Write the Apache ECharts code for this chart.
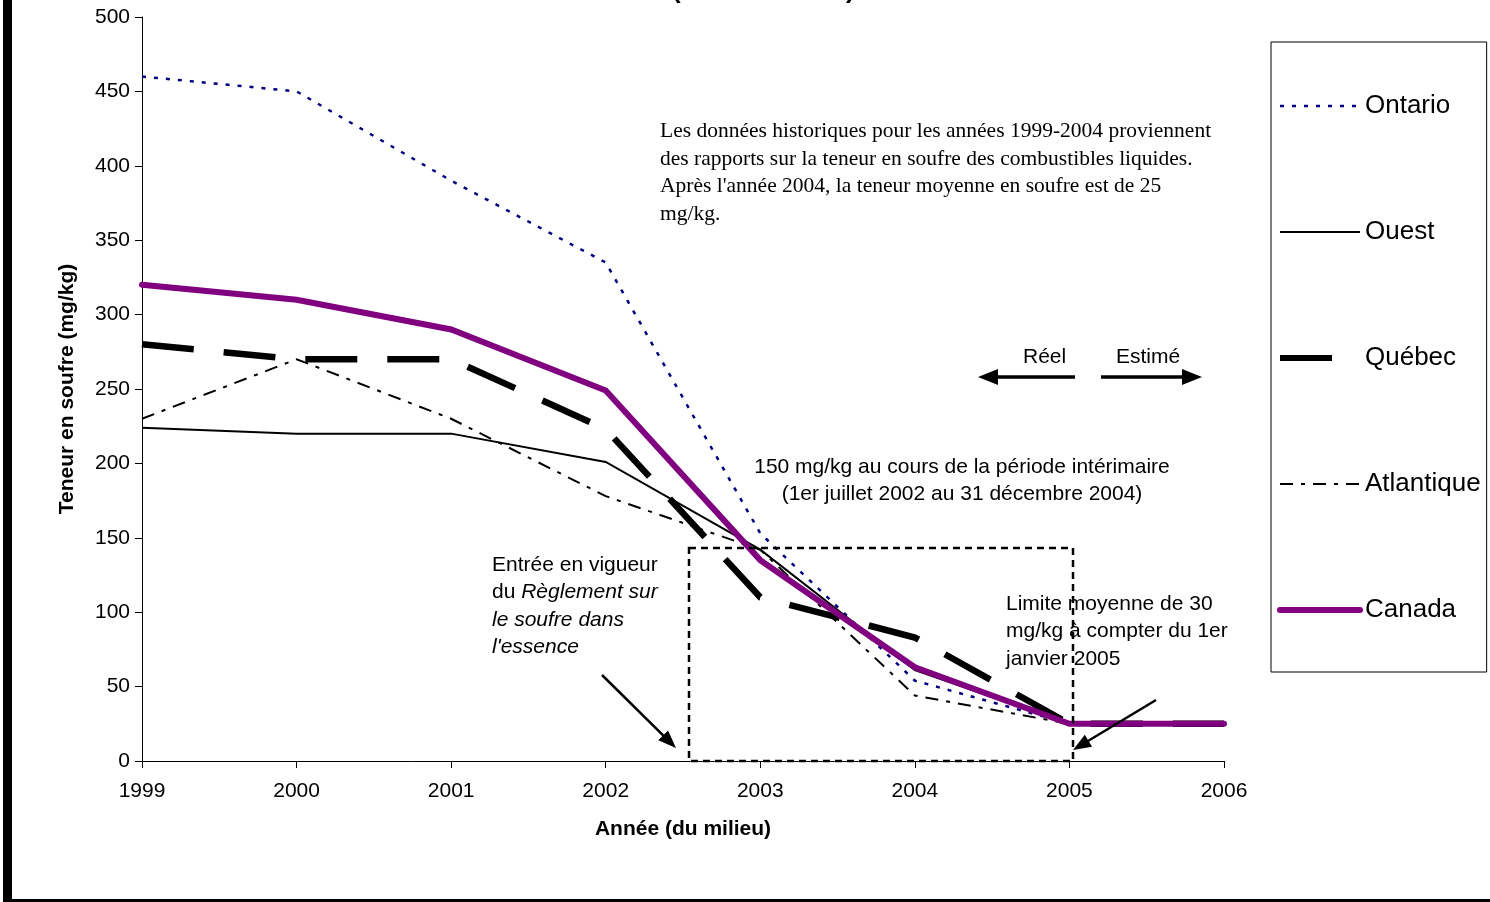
<!DOCTYPE html>
<html><head><meta charset="utf-8">
<script src="https://cdn.jsdelivr.net/npm/echarts@6/dist/echarts.min.js"></script>
<style>html,body{margin:0;padding:0;background:#fff}#c{width:1490px;height:902px}</style>
</head><body><div id="c"></div><script>
// ---- data ----
const years = [1999, 2000, 2001, 2002, 2003, 2004, 2005, 2006];
const ontario    = [460, 450, 390, 335, 153, 54, 25, 25];
const ouest      = [224, 220, 220, 201, 142, 61, 25, 25];
const quebec     = [280, 270, 270, 223, 110, 83, 25, 25];
const atlantique = [230, 270, 230, 178, 142, 44, 25, 25];
const canada     = [320, 310, 290, 249, 135, 63, 25, 25];
const seriesNames = ['Ontario', 'Ouest', 'Québec', 'Atlantique', 'Canada'];
const yMin = 0, yMax = 500, yStep = 50;

const pairs = arr => years.map((y, i) => [y, arr[i]]);
const SANS = '"Liberation Sans", Arial, sans-serif';
const SERIF = '"Liberation Serif", "Times New Roman", serif';

const styles = {
  'Ontario':    {color: '#000080', width: 2.5, type: [4, 8], cap: 'butt'},
  'Ouest':      {color: '#000000', width: 2, type: 'solid', cap: 'butt'},
  'Québec':     {color: '#000000', width: 6.5, type: [52, 30], cap: 'butt'},
  'Atlantique': {color: '#000000', width: 2, type: [13, 8, 4, 8], cap: 'butt'},
  'Canada':     {color: '#800080', width: 6, type: 'solid', cap: 'round'}
};
const dataSets = [ontario, ouest, quebec, atlantique, canada];

function arrow(x1, y1, x2, y2, w, hl, hw) {
  const dx = x2 - x1, dy = y2 - y1, L = Math.hypot(dx, dy);
  const ux = dx / L, uy = dy / L;
  const bx = x2 - ux * hl, by = y2 - uy * hl;
  return [
    {type: 'line', shape: {x1, y1, x2: bx + ux * 1, y2: by + uy * 1}, style: {stroke: '#000', lineWidth: w}, z: 100},
    {type: 'polygon', shape: {points: [[x2, y2], [bx - uy * hw, by + ux * hw], [bx + uy * hw, by - ux * hw]]}, style: {fill: '#000'}, z: 100}
  ];
}
function txt(x, y, text, extra) {
  return {type: 'text', x, y, z: 100,
    style: Object.assign({text, fill: '#000', fontSize: 21, fontFamily: SANS, lineHeight: 27.5}, extra || {})};
}

const graphics = [
  {type: 'rect', shape: {x: 3, y: 0, width: 9, height: 902}, style: {fill: '#000'}, z: 100},
  {type: 'rect', shape: {x: 3, y: 899, width: 1487, height: 3}, style: {fill: '#000'}, z: 100},
  txt(672, -9, '(', {fontWeight: 'bold', fontSize: 26, verticalAlign: 'middle'}),
  txt(846, -9, ')', {fontWeight: 'bold', fontSize: 26, verticalAlign: 'middle'}),
  txt(660, 118, "Les données historiques pour les années 1999-2004 proviennent\ndes rapports sur la teneur en soufre des combustibles liquides.\nAprès l'année 2004, la teneur moyenne en soufre est de 25\nmg/kg.", {fontFamily: SERIF, fontSize: 21.5}),
  txt(1023, 343, 'Réel'),
  txt(1116, 343, 'Estimé'),
  ...arrow(1075, 377, 978, 377, 3.5, 20, 8),
  ...arrow(1101, 377, 1202, 377, 3.5, 20, 8),
  txt(962, 453, "150 mg/kg au cours de la période intérimaire\n(1er juillet 2002 au 31 décembre 2004)", {align: 'center'}),
  {type: 'rect', shape: {x: 689, y: 548, width: 384, height: 213}, style: {fill: 'none', stroke: '#000', lineWidth: 2.5, lineDash: [7, 5]}, z: 99},
  txt(492, 551, "Entrée en vigueur\ndu {i|Règlement sur}\n{i|le soufre dans}\n{i|l'essence}", {rich: {i: {fontStyle: 'italic', fontSize: 21, fontFamily: SANS, lineHeight: 27.5}}}),
  ...arrow(602, 675, 676, 748, 2.5, 18, 7),
  txt(1006, 590, "Limite moyenne de 30\nmg/kg à compter du 1er\njanvier 2005"),
  ...arrow(1156, 700, 1073, 750, 2.5, 18, 7)
];

const chart = echarts.init(document.getElementById('c'), null, {renderer: 'canvas'});
chart.setOption({
  animation: false,
  backgroundColor: '#fff',
  grid: {left: 142, right: 266, top: 17, bottom: 141, containLabel: false},
  xAxis: {
    type: 'value', min: years[0], max: years[years.length - 1], interval: 1,
    splitLine: {show: false},
    axisLine: {show: true, onZero: false, lineStyle: {color: '#000', width: 1}},
    axisTick: {show: true, length: 7, lineStyle: {color: '#000'}},
    axisLabel: {color: '#000', fontSize: 21, fontFamily: SANS, margin: 20, formatter: v => String(v)},
    name: 'Année (du milieu)', nameLocation: 'middle', nameGap: 58,
    nameTextStyle: {color: '#000', fontSize: 21, fontWeight: 'bold', fontFamily: SANS}
  },
  yAxis: {
    type: 'value', min: yMin, max: yMax, interval: yStep,
    splitLine: {show: false},
    axisLine: {show: true, lineStyle: {color: '#000', width: 1}},
    axisTick: {show: true, length: 7, lineStyle: {color: '#000'}},
    axisLabel: {color: '#000', fontSize: 21, fontFamily: SANS, margin: 12},
    name: 'Teneur en soufre (mg/kg)', nameLocation: 'middle', nameGap: 64,
    nameTextStyle: {color: '#000', fontSize: 21, fontWeight: 'bold', fontFamily: SANS}
  },
  legend: {
    orient: 'vertical', left: 1271, top: 42, padding: [51, 6, 49, 6], itemGap: 100,
    itemWidth: 80, itemHeight: 14, borderColor: '#000', borderWidth: 1, backgroundColor: '#fff',
    selectedMode: false,
    textStyle: {fontSize: 26, fontFamily: SANS, color: '#000', lineHeight: 26},
    data: seriesNames.map(n => ({name: n,
      itemStyle: {opacity: 0, color: 'transparent', borderWidth: 0},
      lineStyle: {color: styles[n].color, width: Math.min(styles[n].width, 6), type: styles[n].type, cap: styles[n].cap, opacity: 1}}))
  },
  series: seriesNames.map((n, i) => ({
    name: n, type: 'line', data: pairs(dataSets[i]), symbol: 'none', showSymbol: false,
    lineStyle: {color: styles[n].color, width: styles[n].width, type: styles[n].type, cap: styles[n].cap, join: 'miter'},
    itemStyle: {color: styles[n].color}, z: 2 + i
  })),
  graphic: graphics
});
</script></body></html>
